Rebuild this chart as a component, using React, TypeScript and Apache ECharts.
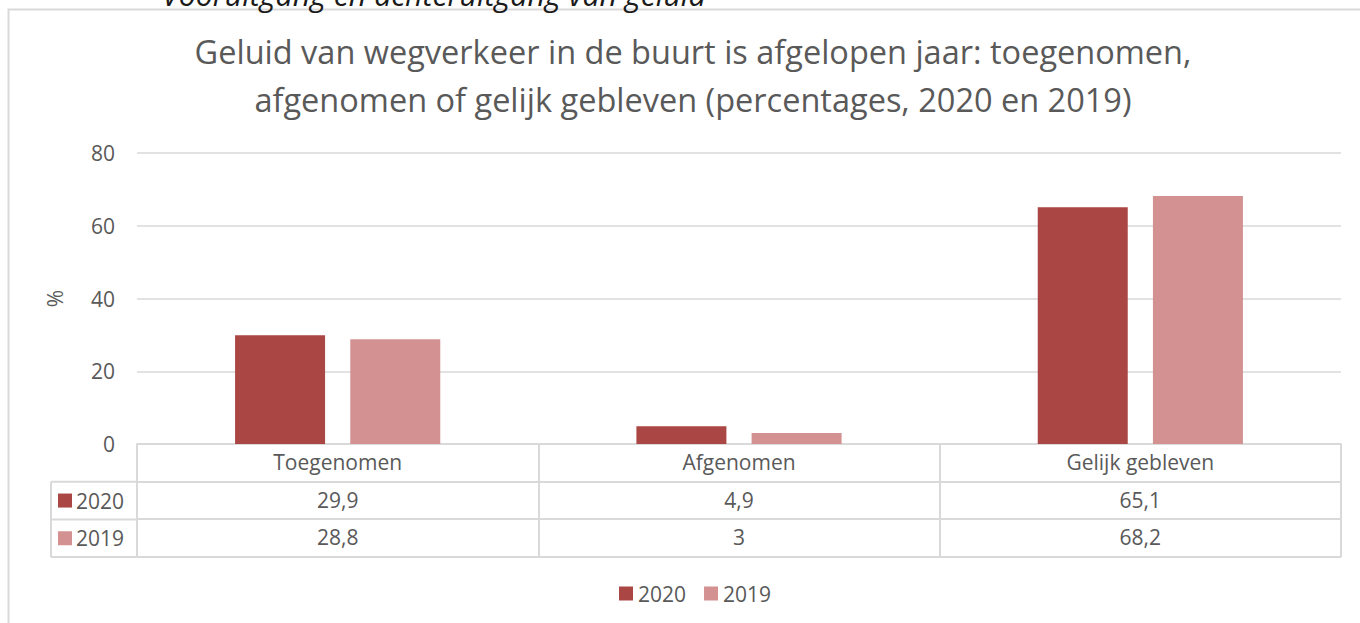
import React, { useEffect, useRef } from "react";
import * as echarts from "echarts";

const topNote = "Vooruitgang en achteruitgang van geluid";
const titleText =
  "Geluid van wegverkeer in de buurt is afgelopen jaar: toegenomen,\nafgenomen of gelijk gebleven (percentages, 2020 en 2019)";
const categories = ["Toegenomen", "Afgenomen", "Gelijk gebleven"];
const seriesNames = ["2020", "2019"];
const values2020 = [29.9, 4.9, 65.1];
const values2019 = [28.8, 3, 68.2];
const yTicks = { min: 0, max: 80, interval: 20 };
const yName = "%";

const colors = ["#AA4643", "#D49191"];
const txt = "#595959";
const line = "#D9D9D9";
const font = "'Open Sans', sans-serif";
const fs = 21;

const fmt = (v: number) => String(v).replace(".", ",");

export default function App() {
  const ref = useRef<HTMLDivElement>(null);
  useEffect(() => {
    if (!ref.current) return;
    const chart = echarts.init(ref.current, null, { renderer: "svg" });
    const gridLeft = 137;
    const gridRight = 19;
    const gridTop = 153;
    const gridBottom = 179;
    const axisY = 623 - gridBottom;
    const rowH = 37.7;
    const colLeft = 51;
    const valueAxis = (vals: number[], idx: number) => ({
      type: "category",
      position: "bottom",
      offset: Math.round(rowH * idx),
      data: vals.map(fmt),
      axisLine: { show: true, lineStyle: { color: line, width: 2 } },
      axisTick: { show: false },
      axisLabel: { color: txt, fontSize: fs, fontFamily: font, margin: 7 },
      splitLine: { show: false },
    });
    chart.setOption({
      animation: false,
      textStyle: { fontFamily: font },
      title: {
        text: titleText,
        left: 688,
        textAlign: "center",
        top: 22,
        textStyle: {
          color: txt,
          fontSize: 32.5,
          fontWeight: "normal",
          fontFamily: font,
          lineHeight: 48,
        },
      },
      grid: { left: gridLeft, right: gridRight, top: gridTop, bottom: gridBottom },
      legend: {
        data: seriesNames,
        bottom: 14,
        left: 614,
        itemWidth: 14,
        itemHeight: 14,
        itemGap: 18,
        icon: "rect",
        selectedMode: false,
        textStyle: { color: txt, fontSize: fs, fontFamily: font },
      },
      xAxis: [
        {
          type: "category",
          data: categories,
          position: "bottom",
          axisLine: { show: true, lineStyle: { color: line, width: 2 } },
          axisTick: {
            show: true,
            length: Math.round(rowH * 3),
            lineStyle: { color: line, width: 2 },
          },
          axisLabel: { color: txt, fontSize: fs, fontFamily: font, margin: 7 },
        },
        valueAxis(values2020, 1),
        valueAxis(values2019, 2),
      ],
      yAxis: {
        type: "value",
        min: yTicks.min,
        max: yTicks.max,
        interval: yTicks.interval,
        name: yName,
        nameLocation: "middle",
        nameGap: 72,
        nameRotate: 90,
        nameTextStyle: { color: txt, fontSize: fs, fontFamily: font },
        axisLine: { show: false },
        axisTick: { show: false },
        axisLabel: { color: txt, fontSize: fs, fontFamily: font, margin: 22 },
        splitLine: { lineStyle: { color: line, width: 1.5 } },
      },
      series: [
        {
          name: seriesNames[0],
          type: "bar",
          data: values2020,
          barWidth: 90,
          barGap: "28%",
          itemStyle: { color: colors[0] },
        },
        {
          name: seriesNames[1],
          type: "bar",
          data: values2019,
          barWidth: 90,
          itemStyle: { color: colors[1] },
        },
      ],
      graphic: [
        {
          type: "rect",
          silent: true,
          shape: { x: 8.5, y: 9.5, width: 1500, height: 800 },
          style: { fill: "none", stroke: line, lineWidth: 2 },
        },
        {
          type: "text",
          x: 162,
          y: -6,
          style: {
            text: topNote,
            fill: "#1a1a1a",
            fontSize: 30.3,
            fontStyle: "italic",
            fontFamily: font,
            verticalAlign: "middle",
          },
        },
        ...[1, 2, 3].map((i) => ({
          type: "line",
          silent: true,
          shape: {
            x1: colLeft,
            y1: axisY + rowH * i,
            x2: i === 3 ? 1360 - gridRight : gridLeft,
            y2: axisY + rowH * i,
          },
          style: { stroke: line, lineWidth: 2 },
        })),
        {
          type: "line",
          silent: true,
          shape: { x1: colLeft, y1: axisY + rowH, x2: colLeft, y2: axisY + rowH * 3 },
          style: { stroke: line, lineWidth: 2 },
        },
        ...seriesNames.flatMap((name, i) => {
          const cy = axisY + rowH * (i + 1.5);
          return [
            {
              type: "rect",
              silent: true,
              shape: { x: 58, y: cy - 7, width: 14, height: 14 },
              style: { fill: colors[i] },
            },
            {
              type: "text",
              silent: true,
              x: 76,
              y: cy,
              style: {
                text: name,
                fill: txt,
                fontSize: fs,
                fontFamily: font,
                verticalAlign: "middle",
              },
            },
          ];
        }),
      ],
    });
    return () => chart.dispose();
  }, []);
  return (
    <div
      ref={ref}
      style={{ position: "fixed", left: 0, top: 0, width: 1360, height: 623, background: "#fff" }}
    />
  );
}
